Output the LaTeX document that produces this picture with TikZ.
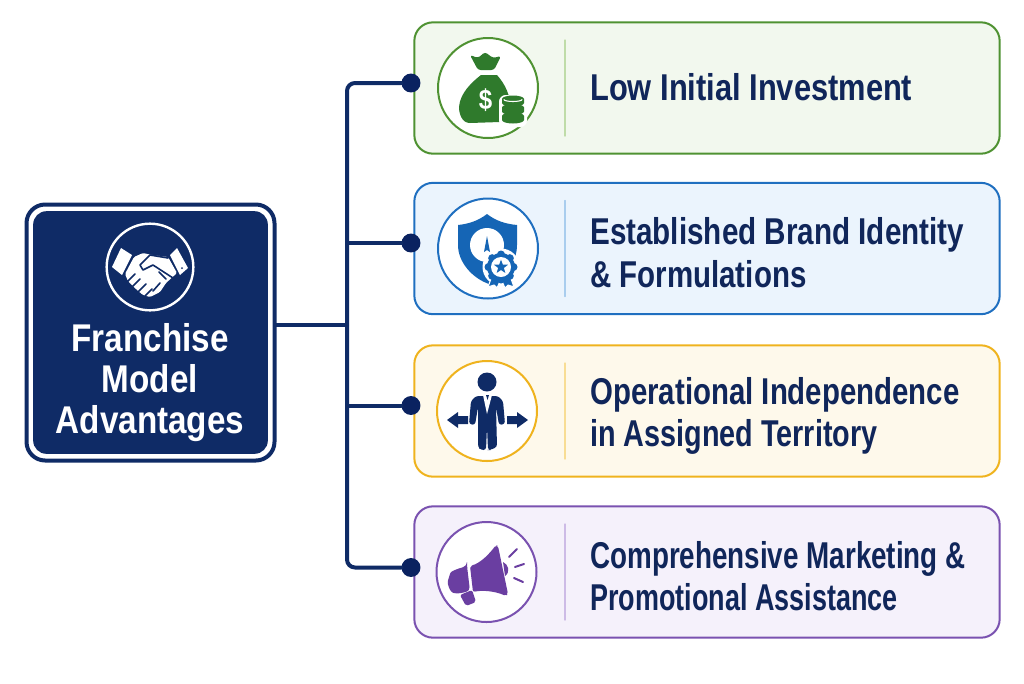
\documentclass[tikz,border=0pt]{standalone}
\usepackage{fontspec}
\usepackage{graphicx}
\setmainfont[FakeStretch=0.86]{Liberation Sans}
\usetikzlibrary{shapes.geometric}
\definecolor{navy}{HTML}{0F2B66}
\definecolor{dotnavy}{HTML}{0A2260}
\definecolor{inktext}{HTML}{10265A}
\definecolor{greenline}{HTML}{4F9232}
\definecolor{greenfill}{HTML}{F2F8EE}
\definecolor{greenicon}{HTML}{2F7A2C}
\definecolor{greenrule}{HTML}{BFDCA8}
\definecolor{blueline}{HTML}{1F6FC0}
\definecolor{bluefill}{HTML}{EBF4FD}
\definecolor{blueicon}{HTML}{1565B5}
\definecolor{bluerule}{HTML}{A9CDEE}
\definecolor{amberline}{HTML}{EFB31E}
\definecolor{amberfill}{HTML}{FEF9EB}
\definecolor{amberrule}{HTML}{F8DD94}
\definecolor{purpleline}{HTML}{7A52B0}
\definecolor{purplefill}{HTML}{F5F1FB}
\definecolor{purpleicon}{HTML}{6A3EA1}
\definecolor{purplerule}{HTML}{CDBBE6}
\newcommand{\squeezeline}[2]{\scalebox{#1}[1]{#2}}
\tikzset{
	card/.style={draw=#1line,fill=#1fill,line width=1.5pt,rounded corners=14pt,minimum width=439pt,minimum height=98.5pt,inner sep=0pt},
	badge/.style={draw=#1line,fill=white,circle,line width=1.5pt,minimum size=75pt,inner sep=0pt},
	dot/.style={circle,fill=dotnavy,minimum size=14.2pt,inner sep=0pt},
	link/.style={navy,line width=3pt,line join=round},
	cardtext/.style={text=inktext,font=\fontsize{28}{32}\selectfont\bfseries,align=left,anchor=west,inner sep=0pt},
}
\begin{document}
\begin{tikzpicture}[x=0.75pt,y=-0.75pt,line join=round,line cap=round]
	\useasboundingbox (0,0) rectangle (1024,683);
	% root box
	\node[draw=navy,fill=white,line width=3pt,rounded corners=14pt,minimum width=186pt,minimum height=192pt,inner sep=0pt] (rootbox) at (150.5,332.5) {};
	\node[fill=navy,rounded corners=10pt,minimum width=176pt,minimum height=182pt,inner sep=0pt] (rootfill) at (150.5,332.5) {};
	\node[draw=white,line width=1.8pt,circle,minimum size=65pt,inner sep=0pt] (rootring) at (150,267) {};
	\node[text=white,font=\fontsize{29}{30.6}\selectfont\bfseries,align=center,inner sep=0pt] (roottitle) at (150,382.5) {Franchise\\Model\\Advantages};
	% handshake
	\fill[white] (121,248)--(132,255)--(122,275)--(112,267)--cycle;
	\fill[white] (170,255)--(177,248)--(188,268)--(180,275)--cycle;
	\fill[navy] (182,268) circle[radius=1];
	\fill[white,rounded corners=1pt] (134,257)--(143,253)--(152,255)--(168,257)--(177,273)--(166,283)--(160,292)--(150,297)--(143,295)--(137,290)--(132,285)--(128,281)--(125,274)--cycle;
	\draw[navy,line width=1.2pt] (168,258)--(150,255)--(140,265)--(143,270)--(153,265)--(173,278) (127,282)--(135,274) (132,287)--(140,279) (138,292)--(146,284) (145,296)--(152,289) (160,283)--(153,291) (166,279)--(159,272);
	% cards
	\foreach \nm/\col/\xb/\yc/\yd in {low/green/488/88/83,brand/blue/488/248.5/243,indep/amber/487/411/405.5,promo/purple/486.5/572/567.5}{
		\node[card=\col] (card\nm) at (707,\yc) {};
		\node[badge=\col] (badge\nm) at (\xb,\yc) {};
		\node[dot] (dot\nm) at (411,\yd) {};
		\coordinate (rulea\nm) at (565,\yc-48);
		\coordinate (ruleb\nm) at (565,\yc+48);
		\draw[\col rule,line width=1pt] (rulea\nm)--(ruleb\nm);
	}
	\node[cardtext] (textlow) at (590,87.5) {\squeezeline{.96}{Low Initial Investment}};
	\node[cardtext] (textbrand) at (590,252.5) {\squeezeline{.923}{Established Brand Identity}\\\squeezeline{.918}{\& Formulations}};
	\node[cardtext] (textindep) at (590,416) {\squeezeline{.916}{Operational Independence}\\\squeezeline{.896}{in Assigned Territory}};
	\node[cardtext] (textpromo) at (590,576) {\squeezeline{.866}{Comprehensive Marketing \&}\\\squeezeline{.84}{Promotional Assistance}};
	% connectors
	\coordinate (trunk) at (347,325);
	\draw[link] (trunk-|rootbox.east)--(trunk);
	\draw[link,rounded corners=6pt] (dotlow)-|(trunk)|-(dotpromo);
	\draw[link] (trunk|-dotbrand)--(dotbrand);
	\draw[link] (trunk|-dotindep)--(dotindep);
	% money bag
	\fill[greenicon,rounded corners=2pt] (470,55)--(478,58)--(485,52)--(493,58)--(501,56)--(494,70)--(478,70)--cycle;
	\fill[greenicon] (481,75)--(497,75)..controls (505,84) and (511,96) .. (510,108)..controls (510,118) and (505,122) .. (500,122)--(470,123)..controls (462,123) and (459,114) .. (459,107)..controls (460,93) and (472,82) .. (481,75)--cycle;
	\node[text=white,font=\fontsize{21}{21}\selectfont\bfseries,inner sep=0pt] (dollarsign) at (485.5,100) {\$};
	\fill[white,rounded corners=5pt] (499,95) rectangle (527,127);
	\foreach \yy in {116,107.5,99}{
		\fill[greenicon] (502,\yy)--(502,\yy+4) arc[start angle=180,end angle=360,x radius=11,y radius=-3.5]--(524,\yy) arc[start angle=0,end angle=180,x radius=11,y radius=-3.5]--cycle;
	}
	\draw[white,line width=0.8pt] (504,99.5) arc[start angle=180,end angle=360,x radius=9,y radius=-2];
	% shield
	\fill[blueicon] (487,214)..controls (478,221) and (468,224) .. (458,225)--(458,245)..controls (458,262) and (472,278) .. (489,284)..controls (505,278) and (517,262) .. (517,245)--(517,225)..controls (506,224) and (496,221) .. (487,214)--cycle;
	\fill[white] (487,245) circle[radius=17];
	\fill[blueicon] (487,236)--(490,252)--(487,250)--(484,252)--cycle;
	\fill[white] (501,267) circle[radius=18.5];
	\fill[blueicon,draw=white,line width=.8pt] (492,276)--(488,287)--(494,285)--(497,288)--(501,279)--(505,288)--(508,285)--(514,287)--(510,276)--cycle;
	\foreach \ang in {0,45,...,315}
		\fill[blueicon] (501,267)+(\ang:12.5) circle[radius=4];
	\fill[blueicon] (501,267) circle[radius=14];
	\fill[white] (501,267) circle[radius=10];
	\node[star,star points=5,star point ratio=2.4,fill=blueicon,minimum size=11pt,inner sep=0pt] (ribbonstar) at (501,267) {};
	% person
	\fill[navy] (487,382) circle[radius=9.5];
	\fill[navy,rounded corners=2pt] (476,396)--(498,396)--(503,401)--(505,424)--(499,425)--(496,407)--(497,447)--(490,450)--(488,450)--(487,427)--(486,450)--(481,450)--(478,447)--(478,407)--(475,425)--(469,424)--(471,401)--cycle;
	\fill[white] (483,395)--(492,395)--(487,414)--cycle;
	\fill[navy] (486,395)--(489,395)--(487.5,400)--cycle;
	\fill[navy] (447,420)--(458,412)--(458,416)--(468,416)--(468,424)--(458,424)--(458,428)--cycle;
	\fill[navy] (528,420)--(517,412)--(517,416)--(507,416)--(507,424)--(517,424)--(517,428)--cycle;
	% megaphone
	\fill[purpleicon,rounded corners=1.5pt] (470,566)..controls (481,563) and (490,553) .. (496,545)--(498,546)--(508,594)--(506,596)..controls (495,591) and (482,590) .. (473,592)--cycle;
	\fill[purpleicon,rounded corners=3pt] (467,566)--(470,591)--(457,594)..controls (450,592) and (447,584) .. (449,577)..controls (451,571) and (457,569) .. (467,566)--cycle;
	\fill[purpleicon,rounded corners=1.5pt] (460,595)--(472,590)--(476,602)--(466,606)--cycle;
	\fill[purpleicon] (503,562)..controls (508,564) and (511,572) .. (505,576)--cycle;
	\draw[purpleicon,line width=1.5pt] (509,557)--(517,549) (515,567)--(524,564) (514,578)--(523,582);
\end{tikzpicture}
\end{document}
